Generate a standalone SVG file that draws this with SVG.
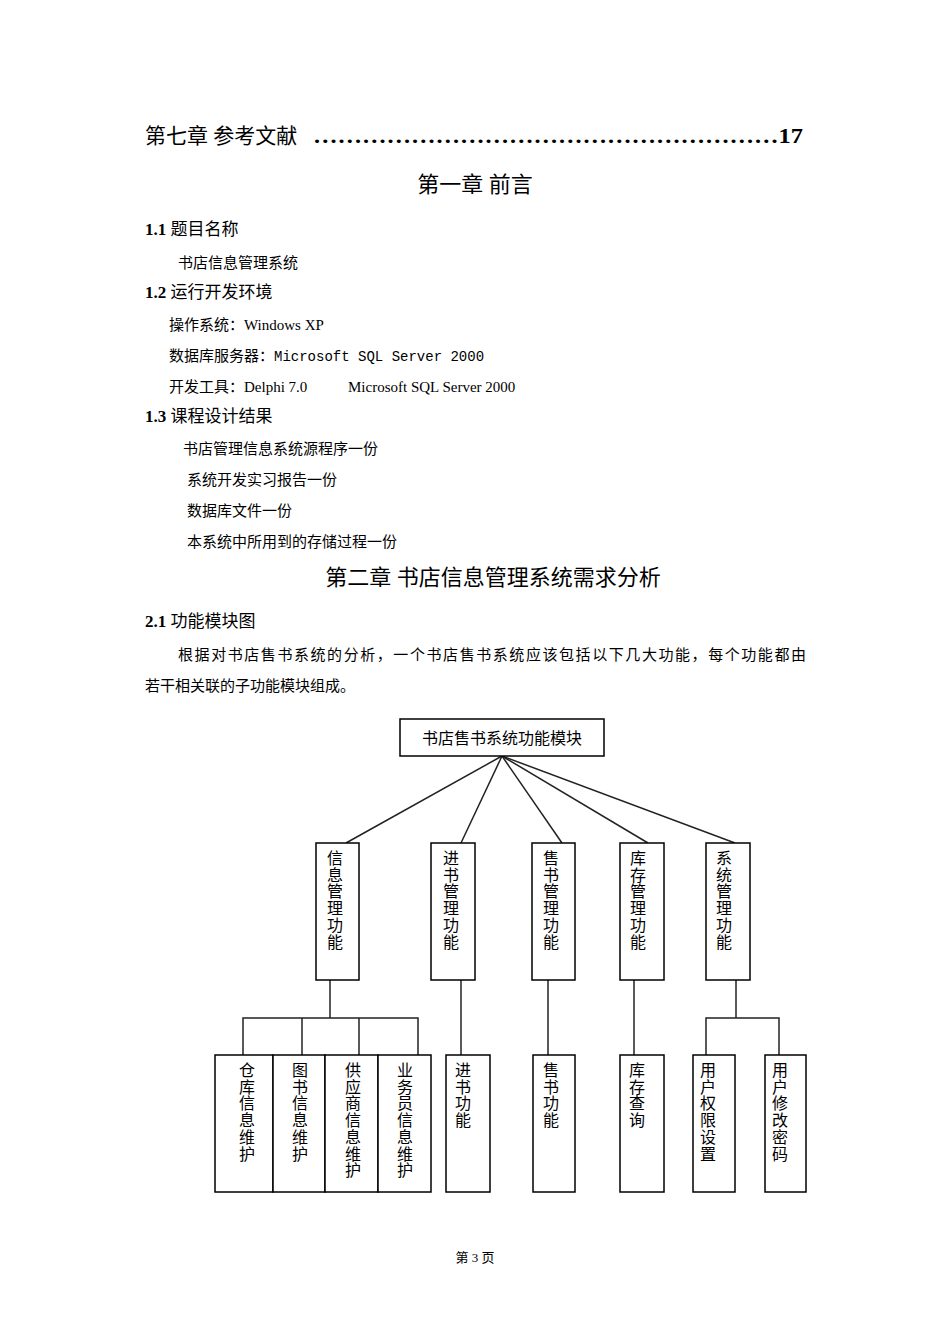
<svg xmlns="http://www.w3.org/2000/svg" width="950" height="1344" viewBox="0 0 950 1344">
<style>
text{font-family:"Liberation Serif","Noto Sans CJK SC",serif;fill:#000}
.b{font-weight:bold}
.h{font-size:17px}
.p{font-size:15px}
.n{font-size:16px;text-anchor:middle}
rect{fill:#fff;stroke:#000;stroke-width:1.5}
#connectors line,#connectors polyline{stroke:#222;stroke-width:1.5;fill:none}
</style>
<rect x="0" y="0" width="950" height="1344" style="stroke:none"/>
<text x="145" y="143" font-size="21">第七章  参考文献</text>
<text x="313" y="143" font-size="22" class="b" textLength="490" lengthAdjust="spacingAndGlyphs">…………………………………………………17</text>
<text x="475" y="192" font-size="22" text-anchor="middle">第一章  前言</text>
<text x="145" y="235" class="h"><tspan class="b">1.1</tspan> 题目名称</text>
<text x="178" y="268" class="p">书店信息管理系统</text>
<text x="145" y="298" class="h"><tspan class="b">1.2</tspan>  运行开发环境</text>
<text x="169" y="330" class="p">操作系统：Windows XP</text>
<text x="169" y="361" class="p">数据库服务器：<tspan font-family="Liberation Mono,monospace" font-size="14">Microsoft SQL Server 2000</tspan></text>
<text x="169" y="392" class="p">开发工具：Delphi 7.0<tspan x="348">Microsoft SQL Server 2000</tspan></text>
<text x="145" y="422" class="h"><tspan class="b">1.3</tspan>  课程设计结果</text>
<text x="183" y="454" class="p">书店管理信息系统源程序一份</text>
<text x="187" y="485" class="p">系统开发实习报告一份</text>
<text x="187" y="516" class="p">数据库文件一份</text>
<text x="187" y="547" class="p">本系统中所用到的存储过程一份</text>
<text x="493" y="585" font-size="22" text-anchor="middle">第二章  书店信息管理系统需求分析</text>
<text x="145" y="627" class="h"><tspan class="b">2.1</tspan>  功能模块图</text>
<text x="178" y="660" class="p" textLength="628" lengthAdjust="spacing">根据对书店售书系统的分析，一个书店售书系统应该包括以下几大功能，每个功能都由</text>
<text x="145" y="691" class="p">若干相关联的子功能模块组成。</text>
<text x="475" y="1262" font-size="13" text-anchor="middle">第 3 页</text>

<g id="connectors">
<line x1="502" y1="756" x2="346" y2="843"/>
<line x1="502" y1="756" x2="461" y2="843"/>
<line x1="502" y1="756" x2="562" y2="843"/>
<line x1="502" y1="756" x2="648" y2="843"/>
<line x1="502" y1="756" x2="735" y2="843"/>
<line x1="330" y1="980" x2="330" y2="1018"/>
<polyline points="243,1055 243,1018 418,1018 418,1055"/>
<line x1="302" y1="1018" x2="302" y2="1055"/>
<line x1="359" y1="1018" x2="359" y2="1055"/>
<line x1="461" y1="980" x2="461" y2="1055"/>
<line x1="548" y1="980" x2="548" y2="1055"/>
<line x1="634" y1="980" x2="634" y2="1055"/>
<line x1="736" y1="980" x2="736" y2="1018"/>
<polyline points="706,1055 706,1018 779,1018 779,1055"/>
</g>

<g id="root"><rect x="400" y="719" width="204" height="37"/><text x="502" y="744" class="n">书店售书系统功能模块</text></g>

<g id="n-info"><rect x="316" y="843" width="43" height="137"/><text class="n"><tspan x="335" y="864">信</tspan><tspan x="335" dy="16.7">息</tspan><tspan x="335" dy="16.7">管</tspan><tspan x="335" dy="16.7">理</tspan><tspan x="335" dy="16.7">功</tspan><tspan x="335" dy="16.7">能</tspan></text></g>
<g id="n-in"><rect x="431" y="843" width="44" height="137"/><text class="n"><tspan x="451" y="864">进</tspan><tspan x="451" dy="16.7">书</tspan><tspan x="451" dy="16.7">管</tspan><tspan x="451" dy="16.7">理</tspan><tspan x="451" dy="16.7">功</tspan><tspan x="451" dy="16.7">能</tspan></text></g>
<g id="n-sell"><rect x="532" y="843" width="43" height="137"/><text class="n"><tspan x="551" y="864">售</tspan><tspan x="551" dy="16.7">书</tspan><tspan x="551" dy="16.7">管</tspan><tspan x="551" dy="16.7">理</tspan><tspan x="551" dy="16.7">功</tspan><tspan x="551" dy="16.7">能</tspan></text></g>
<g id="n-stock"><rect x="620" y="843" width="44" height="137"/><text class="n"><tspan x="638" y="864">库</tspan><tspan x="638" dy="16.7">存</tspan><tspan x="638" dy="16.7">管</tspan><tspan x="638" dy="16.7">理</tspan><tspan x="638" dy="16.7">功</tspan><tspan x="638" dy="16.7">能</tspan></text></g>
<g id="n-sys"><rect x="706" y="843" width="44" height="137"/><text class="n"><tspan x="724" y="864">系</tspan><tspan x="724" dy="16.7">统</tspan><tspan x="724" dy="16.7">管</tspan><tspan x="724" dy="16.7">理</tspan><tspan x="724" dy="16.7">功</tspan><tspan x="724" dy="16.7">能</tspan></text></g>

<g id="b1"><rect x="215" y="1055" width="58" height="137"/><text class="n"><tspan x="247" y="1076">仓</tspan><tspan x="247" dy="16.7">库</tspan><tspan x="247" dy="16.7">信</tspan><tspan x="247" dy="16.7">息</tspan><tspan x="247" dy="16.7">维</tspan><tspan x="247" dy="16.7">护</tspan></text></g>
<g id="b2"><rect x="273" y="1055" width="52" height="137"/><text class="n"><tspan x="300" y="1076">图</tspan><tspan x="300" dy="16.7">书</tspan><tspan x="300" dy="16.7">信</tspan><tspan x="300" dy="16.7">息</tspan><tspan x="300" dy="16.7">维</tspan><tspan x="300" dy="16.7">护</tspan></text></g>
<g id="b3"><rect x="325" y="1055" width="53" height="137"/><text class="n"><tspan x="353" y="1076">供</tspan><tspan x="353" dy="16.7">应</tspan><tspan x="353" dy="16.7">商</tspan><tspan x="353" dy="16.7">信</tspan><tspan x="353" dy="16.7">息</tspan><tspan x="353" dy="16.7">维</tspan><tspan x="353" dy="16.7">护</tspan></text></g>
<g id="b4"><rect x="378" y="1055" width="53" height="137"/><text class="n"><tspan x="405" y="1076">业</tspan><tspan x="405" dy="16.7">务</tspan><tspan x="405" dy="16.7">员</tspan><tspan x="405" dy="16.7">信</tspan><tspan x="405" dy="16.7">息</tspan><tspan x="405" dy="16.7">维</tspan><tspan x="405" dy="16.7">护</tspan></text></g>
<g id="b5"><rect x="446" y="1055" width="44" height="137"/><text class="n"><tspan x="463" y="1076">进</tspan><tspan x="463" dy="16.7">书</tspan><tspan x="463" dy="16.7">功</tspan><tspan x="463" dy="16.7">能</tspan></text></g>
<g id="b6"><rect x="533" y="1055" width="42" height="137"/><text class="n"><tspan x="551" y="1076">售</tspan><tspan x="551" dy="16.7">书</tspan><tspan x="551" dy="16.7">功</tspan><tspan x="551" dy="16.7">能</tspan></text></g>
<g id="b7"><rect x="620" y="1055" width="44" height="137"/><text class="n"><tspan x="637" y="1076">库</tspan><tspan x="637" dy="16.7">存</tspan><tspan x="637" dy="16.7">查</tspan><tspan x="637" dy="16.7">询</tspan></text></g>
<g id="b8"><rect x="693" y="1055" width="42" height="137"/><text class="n"><tspan x="708" y="1076">用</tspan><tspan x="708" dy="16.7">户</tspan><tspan x="708" dy="16.7">权</tspan><tspan x="708" dy="16.7">限</tspan><tspan x="708" dy="16.7">设</tspan><tspan x="708" dy="16.7">置</tspan></text></g>
<g id="b9"><rect x="765" y="1055" width="41" height="137"/><text class="n"><tspan x="780" y="1076">用</tspan><tspan x="780" dy="16.7">户</tspan><tspan x="780" dy="16.7">修</tspan><tspan x="780" dy="16.7">改</tspan><tspan x="780" dy="16.7">密</tspan><tspan x="780" dy="16.7">码</tspan></text></g>
</svg>
